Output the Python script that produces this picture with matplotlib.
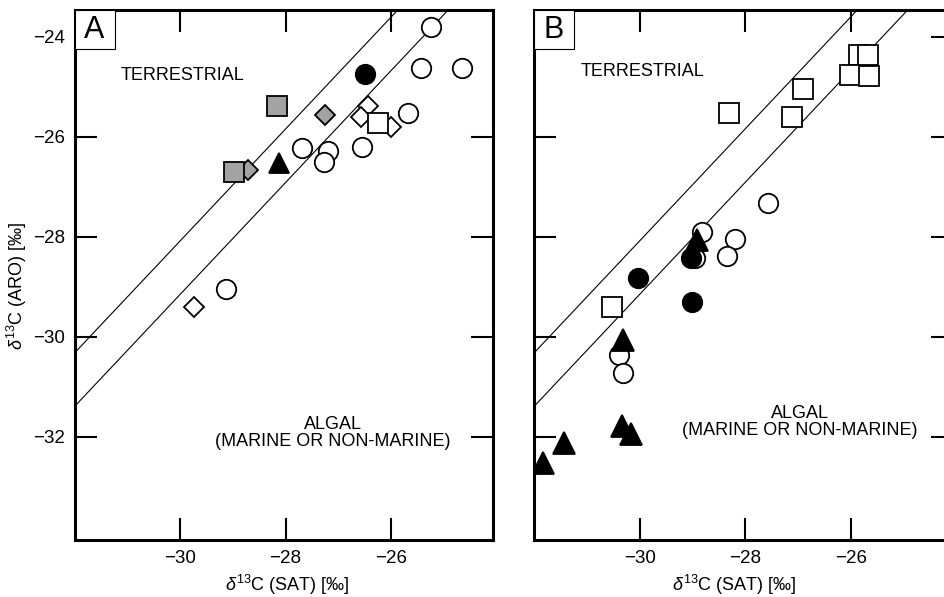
import matplotlib
matplotlib.use("Agg")
import matplotlib.pyplot as plt
from matplotlib.patches import Rectangle

# 1. Schriften festlegen (Arial-ähnlich)
plt.rcParams['font.family'] = ['Liberation Sans', 'DejaVu Sans']
plt.rcParams['mathtext.fontset'] = 'custom'
plt.rcParams['mathtext.rm'] = 'Liberation Sans'
plt.rcParams['mathtext.it'] = 'Liberation Sans:italic'

# 2. Daten
x_ticks = [-30, -28, -26]
y_ticks = [-32, -30, -28, -26, -24]

# Grenzlinien terrestrisch / algal: y = steigung * x + achsenabschnitt
steigung = 1.12
abschnitt_oben = 5.52
abschnitt_unten = 4.45

# Panel A
a_kreis_offen_x = [-25.25, -25.44, -24.66, -25.69, -27.68, -27.20, -27.28, -26.56, -29.12]
a_kreis_offen_y = [-23.80, -24.62, -24.62, -25.52, -26.22, -26.28, -26.50, -26.20, -29.04]
a_kreis_voll_x = [-26.50]
a_kreis_voll_y = [-24.74]
a_raute_grau_x = [-27.26, -28.72]
a_raute_grau_y = [-25.56, -26.66]
a_quadrat_grau_x = [-28.17, -28.97]
a_quadrat_grau_y = [-25.38, -26.70]
a_raute_offen_x = [-26.44, -26.58, -26.01, -29.73]
a_raute_offen_y = [-25.38, -25.60, -25.80, -29.40]
a_quadrat_offen_x = [-26.25]
a_quadrat_offen_y = [-25.72]
a_dreieck_x = [-28.13]
a_dreieck_y = [-26.52]

# Panel B
b_quadrat_x = [-25.84, -25.67, -26.02, -25.65, -26.90, -27.11, -28.30, -30.52]
b_quadrat_y = [-24.36, -24.36, -24.76, -24.78, -25.04, -25.60, -25.52, -29.40]
b_kreis_offen_x = [-27.56, -28.19, -28.34, -28.82, -28.95, -30.39, -30.31]
b_kreis_offen_y = [-27.32, -28.04, -28.38, -27.90, -28.42, -30.36, -30.72]
b_kreis_voll_x = [-29.02, -30.03, -29.00]
b_kreis_voll_y = [-28.42, -28.82, -29.30]
b_dreieck_x = [-28.91, -30.31, -30.33, -30.16, -31.43, -31.83]
b_dreieck_y = [-28.06, -30.06, -31.78, -31.94, -32.12, -32.52]

grau = '#a3a3a3'

# 3. Abbildung anlegen
fig = plt.figure(figsize=(9.44, 5.97), dpi=100)
ax_a = fig.add_axes([74.5 / 944, 57 / 597, 418.5 / 944, 530 / 597])
ax_b = fig.add_axes([534 / 944, 57 / 597, 418.5 / 944, 530 / 597])


def punkte(ax, x, y, marker, ms, farbe):
    ax.plot(x, y, linestyle='none', marker=marker, ms=ms, mfc=farbe,
            mec='black', mew=1.3)


def achse_formatieren(ax, buchstabe, ylabel, xlabel_x):
    ax.set_xlim(-32, -24.07)
    ax.set_ylim(-34.06, -23.46)
    ax.axline((0, abschnitt_oben), slope=steigung, color='black', lw=0.8, zorder=1)
    ax.axline((0, abschnitt_unten), slope=steigung, color='black', lw=0.8, zorder=1)
    ax.set_xticks(x_ticks)
    ax.set_yticks(y_ticks)
    ax.tick_params(direction='in', length=16, width=1.5, top=True, right=True,
                   labelsize=13.5, pad=7)
    for s in ax.spines.values():
        s.set_linewidth(2.2)
    ax.set_xlabel(r'$\delta^{13}$C (SAT) [‰]', fontsize=13)
    ax.xaxis.set_label_coords(xlabel_x, -0.062)
    if ylabel:
        ax.set_ylabel(r'$\delta^{13}$C (ARO) [‰]', fontsize=13)
        ax.yaxis.set_label_coords(-0.108, 0.48)
    else:
        ax.set_yticklabels([])
    # Kästchen mit Buchstaben oben links
    ax.add_patch(Rectangle((0, 1 - 39 / 530), 40 / 418.5, 39 / 530, transform=ax.transAxes,
                           facecolor='white', edgecolor='black', lw=0.8, zorder=5))
    ax.text(20 / 418.5, 1 - 19.5 / 530, buchstabe, transform=ax.transAxes, fontsize=22,
            ha='center', va='center', zorder=6)


# 4. Panel A zeichnen
punkte(ax_a, a_raute_grau_x, a_raute_grau_y, 'D', 10, grau)
punkte(ax_a, a_quadrat_grau_x, a_quadrat_grau_y, 's', 14.5, grau)
punkte(ax_a, a_raute_offen_x, a_raute_offen_y, 'D', 10, 'white')
punkte(ax_a, a_quadrat_offen_x, a_quadrat_offen_y, 's', 14.5, 'white')
punkte(ax_a, a_kreis_offen_x, a_kreis_offen_y, 'o', 14, 'white')
punkte(ax_a, a_kreis_voll_x, a_kreis_voll_y, 'o', 14, 'black')
punkte(ax_a, a_dreieck_x, a_dreieck_y, '^', 15, 'black')
ax_a.text(-31.13, -24.78, 'TERRESTRIAL', fontsize=13, ha='left', va='center')
ax_a.text(-27.11, -31.92, 'ALGAL\n(MARINE OR NON-MARINE)', fontsize=13,
          ha='center', va='center', linespacing=1.0)
achse_formatieren(ax_a, 'A', True, 0.508)
# rechter Tick bei -24 fehlt im Original
ax_a.yaxis.get_major_ticks()[-1].tick2line.set_visible(False)

# 5. Panel B zeichnen
punkte(ax_b, b_kreis_offen_x, b_kreis_offen_y, 'o', 14, 'white')
punkte(ax_b, b_kreis_voll_x, b_kreis_voll_y, 'o', 14, 'black')
punkte(ax_b, b_dreieck_x, b_dreieck_y, '^', 15.5, 'black')
punkte(ax_b, b_quadrat_x, b_quadrat_y, 's', 14.5, 'white')
ax_b.text(-31.11, -24.70, 'TERRESTRIAL', fontsize=13, ha='left', va='center')
ax_b.text(-26.96, -31.71, 'ALGAL\n(MARINE OR NON-MARINE)', fontsize=13,
          ha='center', va='center', linespacing=1.0)
achse_formatieren(ax_b, 'B', False, 0.479)

fig.savefig('out.png', dpi=100)
